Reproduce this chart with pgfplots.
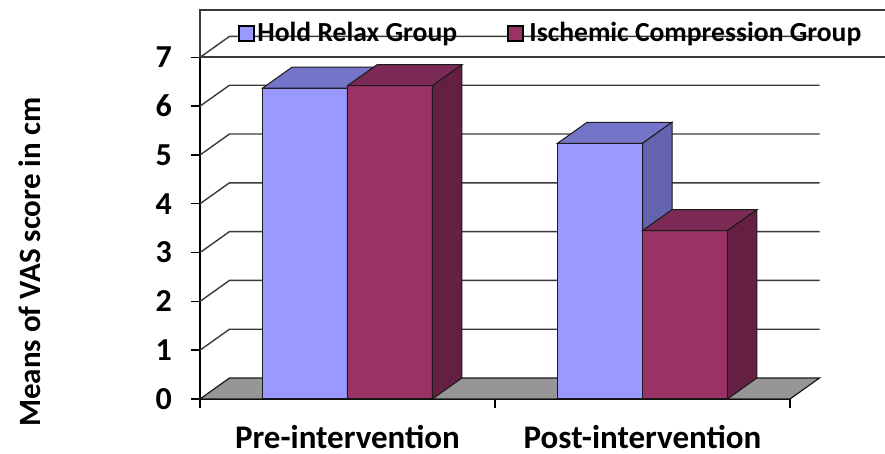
\documentclass[border=0pt]{standalone}
\usepackage{fontspec}
\setmainfont{Carlito}
\usepackage{pgfplots}
\usepackage{pgfplotstable}
\pgfplotsset{compat=1.18}

\definecolor{hrfront}{HTML}{9999FF}
\definecolor{hrtop}{HTML}{7474C8}
\definecolor{hrside}{HTML}{6464AE}
\definecolor{icfront}{HTML}{993366}
\definecolor{ictop}{HTML}{7A2A55}
\definecolor{icside}{HTML}{641F42}
\definecolor{floorgrey}{HTML}{969696}
\definecolor{edge}{HTML}{1A1A1A}
\definecolor{gridc}{HTML}{3A3A3A}

% means of VAS score (cm)
\pgfplotstableread{
x   hr    ic
0.5 6.37  6.42
1.5 5.24  3.45
}\vasdata

% depth of the 3d boxes, in axis units
\def\dx{0.1}
\def\dy{0.43}
\def\bw{0.288}

% top and right faces of one bar: row, column, left edge, colour prefix
\newcommand\barfaces[4]{%
  \pgfplotstablegetelem{#1}{#2}\of\vasdata
  \pgfmathsetmacro\bv{\pgfplotsretval}%
  \pgfmathsetmacro\bt{\bv+\dy}%
  \pgfmathsetmacro\xa{#3}%
  \pgfmathsetmacro\xb{#3+\bw}%
  \pgfmathsetmacro\xc{#3+\bw+\dx}%
  \pgfmathsetmacro\xd{#3+\dx}%
  \edef\doit{%
    \noexpand\addplot[fill=#4top, draw=edge, line width=0.5pt] coordinates {(\xa,\bv) (\xb,\bv) (\xc,\bt) (\xd,\bt)} -- cycle;
    \noexpand\addplot[fill=#4side, draw=edge, line width=0.5pt] coordinates {(\xb,0) (\xb,\bv) (\xc,\bt) (\xc,\dy)} -- cycle;
  }\doit
}

\newcommand\labfont{\bfseries\fontsize{15.5}{18}\selectfont}
\newcommand\catfont{\bfseries\fontsize{16.5}{19}\selectfont}
\newcommand\numfont{\bfseries\fontsize{16}{19}\selectfont}
\newcommand\legfont{\bfseries\fontsize{13.8}{16}\selectfont}

\begin{document}
\begin{tikzpicture}
\useasboundingbox (-100pt,-27.5pt) rectangle (342.5pt,199.5pt);
\begin{axis}[
    x=147.5pt, y=24.4pt,
    xmin=0, xmax=2, ymin=0, ymax=7,
    clip=false,
    axis x line*=bottom, axis y line*=left,
    axis line style={draw=black, line width=0.7pt},
    tick align=outside,
    tick style={draw=black, line width=0.7pt},
    major tick length=4.5pt,
    xtick={0,1,2}, xticklabels={},
    extra x ticks={0.5,1.5},
    extra x tick labels={Pre-intervention,Post-intervention},
    extra x tick style={major tick length=0pt},
    ytick={0,...,7},
    /pgf/number format/assume math mode=true,
    xticklabel style={font=\catfont, inner sep=0pt, yshift=-13pt},
    yticklabel style={font=\numfont, xshift=-6pt},
    ylabel={Means of VAS score in cm},
    every axis y label/.style={at={(rel axis cs:0,0.4)}, xshift=-85pt,
        rotate=90, anchor=center, font=\labfont},
]
% back wall grid and side wall diagonals
\pgfplotsinvokeforeach{1,...,7}{
  \draw[gridc, line width=0.7pt] (axis cs:0,#1) -- (axis cs:\dx,{#1+\dy}) -- (axis cs:{2+\dx},{#1+\dy});
}
% floor
\draw[fill=floorgrey, draw=edge, line width=0.6pt]
  (axis cs:0,0) -- (axis cs:2,0) -- (axis cs:{2+\dx},\dy) -- (axis cs:\dx,\dy) -- cycle;

% Hold Relax group
\addplot[ybar, bar width=0.288, bar shift=-0.144, fill=hrfront, draw=edge, line width=0.5pt]
  table[x=x, y=hr] {\vasdata};
\barfaces{0}{hr}{0.212}{hr}
\barfaces{1}{hr}{1.212}{hr}

% Ischemic Compression group
\addplot[ybar, bar width=0.288, bar shift=0.144, fill=icfront, draw=edge, line width=0.5pt]
  table[x=x, y=ic] {\vasdata};
\barfaces{0}{ic}{0.5}{ic}
\barfaces{1}{ic}{1.5}{ic}
\end{axis}

% legend box, open on the right
\draw[gridc, line width=0.6pt] (342.5pt,194.5pt) -- (0pt,194.5pt) -- (0pt,171pt) -- (342.5pt,171pt);
\draw[fill=hrfront, draw=black, line width=0.8pt] (19.5pt,179pt) rectangle (27pt,186.5pt);
\node[anchor=west, inner sep=0pt, font=\legfont] at (28.5pt,182.5pt) {Hold Relax Group};
\draw[fill=icfront, draw=black, line width=0.8pt] (154pt,179pt) rectangle (161.5pt,186.5pt);
\node[anchor=west, inner sep=0pt, font=\legfont] at (164.5pt,182.5pt) {Ischemic Compression Group};
\end{tikzpicture}
\end{document}
